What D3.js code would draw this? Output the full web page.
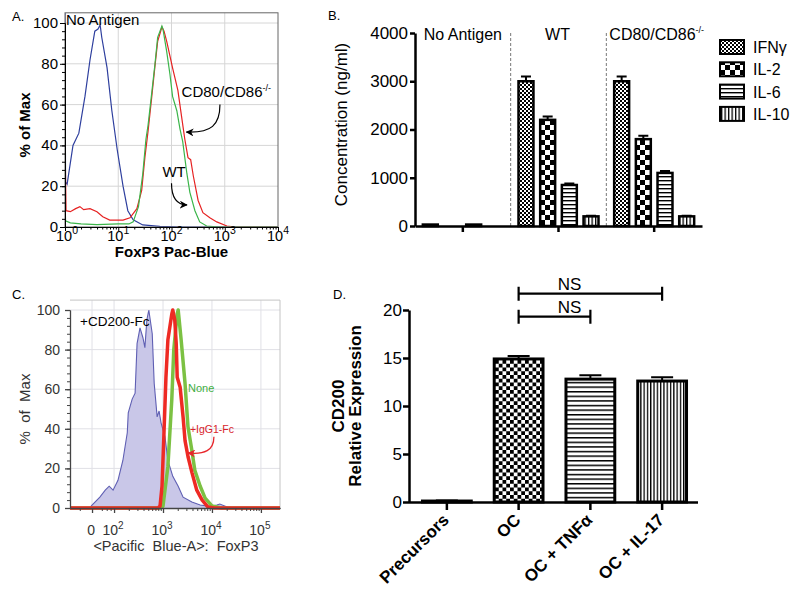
<!DOCTYPE html>
<html><head><meta charset="utf-8">
<script src="https://cdn.jsdelivr.net/npm/d3@7"></script>
<style>body{margin:0;background:#fff} svg text{font-family:'Liberation Sans',Arial,sans-serif}</style>
</head><body><script>
// ---------------- DATA ----------------
// Panel A: FoxP3 histograms, [log10 FoxP3, % of Max]
const aXTicks = [1, 10, 100, 1000, 10000];
const aXExp = ["0", "1", "2", "3", "4"];
const aYTicks = [0, 20, 40, 60, 80, 100];
const histNoAntigen = [[0,105],[0.01,22],[0.04,21],[0.15,40],[0.26,46],[0.375,64],[0.47,82],[0.56,96],[0.62,97],[0.66,99],[0.69,93],[0.79,78],[0.88,57],[0.98,38],[1.09,20],[1.18,8],[1.28,3.5],[1.46,1],[1.78,0.3],[2.2,0],[4,0]];
const histWT = [[0,15],[0.01,3],[0.1,2],[0.3,1.5],[0.6,1.2],[1.0,1.5],[1.2,1.5],[1.28,2.5],[1.38,10],[1.46,26],[1.52,43],[1.56,50],[1.63,66],[1.69,80],[1.74,93],[1.82,98.5],[1.84,97],[1.91,86],[1.97,75],[2.02,64],[2.10,57],[2.16,48],[2.21,42],[2.29,26],[2.345,17],[2.44,8],[2.53,2.5],[2.66,0.5],[2.9,0],[4,0]];
const histCD80 = [[0,42],[0.02,8],[0.1,7.5],[0.2,9],[0.28,10],[0.35,8.5],[0.47,9],[0.6,7.5],[0.71,5],[0.84,3.4],[1.09,3.4],[1.22,4.5],[1.35,9],[1.44,18],[1.5,34],[1.56,47],[1.63,64],[1.69,79],[1.74,91],[1.82,98],[1.86,96],[1.91,91],[2.02,78],[2.12,67],[2.19,54],[2.25,43],[2.31,34],[2.36,33],[2.41,25],[2.5,13],[2.59,7],[2.72,4.5],[2.85,2.5],[3.04,0.5],[3.2,0],[4,0]];

// Panel B: cytokine concentrations (ng/ml)
const bGroups = ["No Antigen", "WT", "CD80/CD86"];
const bCytokines = ["IFNγ", "IL-2", "IL-6", "IL-10"];
const bYTicks = [0, 1000, 2000, 3000, 4000];
const bIFNg = [30, 3000, 3000];
const bIL2 = [0, 2200, 1800];
const bIL6 = [30, 850, 1100];
const bIL10 = [0, 200, 200];
const bIFNgErr = [0, 100, 100];
const bIL2Err = [0, 70, 70];
const bIL6Err = [0, 30, 40];
const bIL10Err = [0, 10, 10];

// Panel C: biexponential display units (log10 above 10^2; "0" shown at 1.55)
const cTickPos = [1.55, 2, 3, 4, 5];
const cTickBase = ["0", "10", "10", "10", "10"];
const cTickExp = ["", "2", "3", "4", "5"];
const cYTicks = [0, 20, 40, 60, 80, 100];
const histCD200 = [[1.1,0],[1.5,0],[1.55,1.5],[1.71,5.5],[1.82,9],[1.90,11],[1.98,9],[2.08,14],[2.18,24],[2.27,38],[2.29,48],[2.37,55],[2.43,58],[2.47,83],[2.53,91],[2.59,86],[2.63,81],[2.67,95],[2.71,100],[2.78,88],[2.82,63],[2.88,46],[2.92,49],[2.96,43],[3.04,36],[3.10,24],[3.20,16],[3.31,11],[3.41,5.5],[3.59,3],[3.76,1.5],[3.95,0.8],[4.1,1.5],[4.16,2],[4.31,0.5],[4.5,0],[5.39,0]];
const histNone = [[1.1,0],[2.95,0],[3.0,1],[3.10,21],[3.18,55],[3.22,80],[3.29,98],[3.31,100],[3.37,85],[3.45,63],[3.51,41],[3.59,29],[3.65,19],[3.76,11],[3.86,5],[4.0,1],[4.2,0],[5.39,0]];
const histIgG1 = [[1.1,0],[2.9,0],[2.94,1],[2.98,11],[3.02,38],[3.06,66],[3.10,85],[3.18,98],[3.20,100],[3.24,95],[3.27,83],[3.29,66],[3.35,61],[3.41,46],[3.45,34],[3.51,26],[3.59,18],[3.69,9],[3.80,4],[3.92,0.5],[4.05,0],[5.39,0]];

// Panel D: CD200 relative expression
const dCategories = ["Precursors", "OC", "OC + TNFα", "OC + IL-17"];
const dValues = [0.1, 14.9, 12.8, 12.6];
const dErrors = [0.05, 0.3, 0.4, 0.4];
const dYTicks = [0, 5, 10, 15, 20];

// ---------------- SETUP ----------------
const FONT = "'Liberation Sans',Arial,sans-serif";
const svg = d3.select("body").append("svg").attr("width", 800).attr("height", 603);
svg.append("rect").attr("width", 800).attr("height", 603).attr("fill", "#fff");
const defs = svg.append("defs");

function checker(id, size, sq) {
  const p = defs.append("pattern").attr("id", id).attr("patternUnits", "userSpaceOnUse").attr("width", size).attr("height", size);
  p.append("rect").attr("width", size).attr("height", size).attr("fill", "#fff");
  p.append("rect").attr("width", sq).attr("height", sq).attr("fill", "#000");
  p.append("rect").attr("x", sq).attr("y", sq).attr("width", sq).attr("height", sq).attr("fill", "#000");
}
function hstripe(id, period, lw) {
  const p = defs.append("pattern").attr("id", id).attr("patternUnits", "userSpaceOnUse").attr("width", 10).attr("height", period);
  p.append("rect").attr("width", 10).attr("height", period).attr("fill", "#fff");
  p.append("rect").attr("width", 10).attr("height", lw).attr("fill", "#000");
}
function vstripe(id, period, lw) {
  const p = defs.append("pattern").attr("id", id).attr("patternUnits", "userSpaceOnUse").attr("width", period).attr("height", 10);
  p.append("rect").attr("width", period).attr("height", 10).attr("fill", "#fff");
  p.append("rect").attr("width", lw).attr("height", 10).attr("fill", "#000");
}
checker("pFine", 4, 2);
checker("pBig", 10, 5);
hstripe("pH", 4, 1.4);
vstripe("pV", 3.5, 1.3);
checker("pDCheck", 7.5, 3.75);
hstripe("pDH", 4.6, 1.5);
vstripe("pDV", 3.3, 1.3);

function marker(id, color) {
  defs.append("marker").attr("id", id).attr("viewBox", "0 0 10 10").attr("refX", 9).attr("refY", 5)
    .attr("markerWidth", 8).attr("markerHeight", 8).attr("markerUnits", "userSpaceOnUse").attr("orient", "auto")
    .append("path").attr("d", "M0,0 L10,5 L0,10 L3,5 Z").attr("fill", color);
}
marker("arrK", "#000");
marker("arrR", "#e8262b");

function supText(sel, x, y, base, sup, size, supSize, anchor, color) {
  const t = sel.append("text").attr("x", x).attr("y", y).attr("text-anchor", anchor)
    .attr("font-size", size).attr("fill", color || "#000");
  t.append("tspan").text(base);
  if (sup) t.append("tspan").attr("dy", -size * 0.45).attr("font-size", supSize).text(sup);
  return t;
}
function styleAxis(g, size, color, width) {
  g.attr("font-family", FONT).attr("font-size", size);
  g.selectAll("text").attr("fill", color);
  g.selectAll("line").attr("stroke", color).attr("stroke-width", width);
  g.select(".domain").attr("stroke", color).attr("stroke-width", width);
}

// ---------------- PANEL A ----------------
{
  const g = svg.append("g");
  const xA = d3.scaleLog().domain([1, 1e4]).range([65, 278]);
  const yA = d3.scaleLinear().domain([0, 100]).range([227, 23]);
  const top = yA(105);
  g.selectAll(null).data(aXTicks.slice(1, -1)).join("line")
    .attr("x1", d => xA(d)).attr("x2", d => xA(d)).attr("y1", top).attr("y2", yA(0)).attr("stroke", "#d6d6d6");
  g.selectAll(null).data(aYTicks.slice(1)).join("line")
    .attr("x1", xA(1)).attr("x2", xA(1e4)).attr("y1", d => yA(d)).attr("y2", d => yA(d)).attr("stroke", "#d6d6d6");
  defs.append("clipPath").attr("id", "clipA").append("rect")
    .attr("x", xA(1)).attr("y", top).attr("width", xA(1e4) - xA(1)).attr("height", yA(0) - top);
  const line = d3.line().x(d => xA(Math.pow(10, d[0]))).y(d => yA(d[1]));
  const data = [[histNoAntigen, "#2e3f9e"], [histCD80, "#e62222"], [histWT, "#3bb54a"]];
  g.selectAll(null).data(data).join("path").attr("clip-path", "url(#clipA)")
    .attr("d", d => line(d[0])).attr("fill", "none").attr("stroke", d => d[1]).attr("stroke-width", 1.2);
  g.append("rect").attr("x", xA(1)).attr("y", top).attr("width", xA(1e4) - xA(1)).attr("height", yA(0) - top)
    .attr("fill", "none").attr("stroke", "#666").attr("stroke-width", 1);
  // axes
  const ay = g.append("g").attr("transform", `translate(${xA(1)},0)`)
    .call(d3.axisLeft(yA).tickValues(aYTicks).tickSize(5).tickPadding(2).tickSizeOuter(0));
  styleAxis(ay, 15, "#000", 1);
  ay.selectAll("text").attr("dy", "0.3em");
  const ayMinor = g.append("g").attr("transform", `translate(${xA(1)},0)`)
    .call(d3.axisLeft(yA).tickValues(d3.range(0, 101, 4)).tickSize(3).tickFormat("").tickSizeOuter(0));
  styleAxis(ayMinor, 15, "#000", 1);
  const ax = g.append("g").attr("transform", `translate(0,${yA(0)})`)
    .call(d3.axisBottom(xA).tickValues(aXTicks).tickSize(4).tickFormat("").tickSizeOuter(0));
  styleAxis(ax, 15, "#000", 1);
  const minorVals = [];
  for (let dcd = 1; dcd <= 1000; dcd *= 10) for (let k = 2; k <= 9; k++) minorVals.push(k * dcd);
  const axMinor = g.append("g").attr("transform", `translate(0,${yA(0)})`)
    .call(d3.axisBottom(xA).tickValues(minorVals).tickSize(2.5).tickFormat("").tickSizeOuter(0));
  styleAxis(axMinor, 15, "#000", 1);
  aXTicks.forEach((t, i) => supText(g, xA(t) + (i === 0 ? 2 : 0), 241, "10", aXExp[i], 14.5, 10.5, "middle"));
  g.append("text").attr("x", (xA(1) + xA(1e4)) / 2).attr("y", 257).attr("text-anchor", "middle")
    .attr("font-size", 15).attr("font-weight", "bold").text("FoxP3 Pac-Blue");
  g.append("text").attr("transform", `translate(30,${yA(50)}) rotate(-90)`).attr("text-anchor", "middle")
    .attr("font-size", 15).attr("font-weight", "bold").text("% of Max");
  g.append("text").attr("x", 12).attr("y", 21).attr("font-size", 13).text("A.");
  g.append("text").attr("x", xA(1) + 1).attr("y", 25).attr("font-size", 15).text("No Antigen");
  supText(g, xA(Math.pow(10, 2.19)), yA(63.5), "CD80/CD86", "-/-", 15, 9, "start");
  g.append("text").attr("x", xA(Math.pow(10, 1.83))).attr("y", yA(24.5)).attr("font-size", 15).text("WT");
  g.append("path").attr("d", `M${xA(Math.pow(10,2.91))},${yA(60)} C${xA(Math.pow(10,2.91))},${yA(50)} ${xA(Math.pow(10,2.75))},${yA(46)} ${xA(Math.pow(10,2.28))},${yA(46.5)}`)
    .attr("fill", "none").attr("stroke", "#000").attr("stroke-width", 1.2).attr("marker-end", "url(#arrK)");
  g.append("path").attr("d", `M${xA(Math.pow(10,2.0))},${yA(21.5)} C${xA(Math.pow(10,2.0))},${yA(14)} ${xA(Math.pow(10,2.1))},${yA(11)} ${xA(Math.pow(10,2.29))},${yA(10.8)}`)
    .attr("fill", "none").attr("stroke", "#000").attr("stroke-width", 1.2).attr("marker-end", "url(#arrK)");
}

// ---------------- PANEL B ----------------
{
  const g = svg.append("g");
  const xB = d3.scaleBand().domain(bGroups).range([415, 702]);
  const xIn = d3.scaleBand().domain(bCytokines).range([-40, 40]).paddingInner(0.31);
  const yB = d3.scaleLinear().domain([0, 4000]).range([226, 33]);
  const series = [
    { name: "IFNγ", v: bIFNg, e: bIFNgErr, pat: "url(#pFine)" },
    { name: "IL-2", v: bIL2, e: bIL2Err, pat: "url(#pBig)" },
    { name: "IL-6", v: bIL6, e: bIL6Err, pat: "url(#pH)" },
    { name: "IL-10", v: bIL10, e: bIL10Err, pat: "url(#pV)" }
  ];
  // separators
  g.selectAll(null).data(bGroups.slice(1)).join("line")
    .attr("x1", d => xB(d)).attr("x2", d => xB(d)).attr("y1", yB(4000)).attr("y2", yB(0))
    .attr("stroke", "#555").attr("stroke-width", 0.8).attr("stroke-dasharray", "3,2");
  const cx = (gname, s) => xB(gname) + xB.bandwidth() / 2 + xIn(s);
  series.forEach(s => {
    const rows = bGroups.map((gn, i) => ({ g: gn, v: s.v[i], e: s.e[i] }));
    g.selectAll(null).data(rows.filter(r => r.e > 0)).join("path")
      .attr("d", r => {
        const xm = cx(r.g, s.name) + xIn.bandwidth() / 2;
        return `M${xm},${yB(r.v)} V${yB(r.v + r.e)} M${xm - 5},${yB(r.v + r.e)} H${xm + 5}`;
      }).attr("stroke", "#000").attr("stroke-width", 2).attr("fill", "none");
    g.selectAll(null).data(rows.filter(r => r.v > 0)).join("rect")
      .attr("x", r => cx(r.g, s.name)).attr("width", xIn.bandwidth())
      .attr("y", r => yB(r.v)).attr("height", r => yB(0) - yB(r.v))
      .attr("fill", s.pat).attr("stroke", "#000").attr("stroke-width", 2.5);
  });
  const ay = g.append("g").attr("transform", `translate(415,0)`)
    .call(d3.axisLeft(yB).tickValues(bYTicks).tickFormat(d3.format("d")).tickSize(5).tickPadding(2).tickSizeOuter(0));
  styleAxis(ay, 17, "#000", 2.5);
  const ax = g.append("g").attr("transform", `translate(0,${yB(0)})`)
    .call(d3.axisBottom(xB).tickSize(6).tickFormat("").tickSizeOuter(0));
  styleAxis(ax, 17, "#000", 2.5);
  g.append("text").attr("transform", `translate(347,${yB(2000) - 5}) rotate(-90)`).attr("text-anchor", "middle")
    .attr("font-size", 17).text("Concentration (ng/ml)");
  g.append("text").attr("x", 328).attr("y", 20).attr("font-size", 13).text("B.");
  g.append("text").attr("x", xB("No Antigen") + xB.bandwidth() / 2).attr("y", 40).attr("text-anchor", "middle").attr("font-size", 16).text("No Antigen");
  g.append("text").attr("x", xB("WT") + xB.bandwidth() / 2 - 1).attr("y", 40).attr("text-anchor", "middle").attr("font-size", 16).text("WT");
  supText(g, xB("CD80/CD86") + 3, 40, "CD80/CD86", "-/-", 16, 9, "start");
  // legend
  const lg = g.append("g");
  series.forEach((s, i) => {
    const y = 40 + i * 22.3;
    lg.append("rect").attr("x", 720).attr("y", y).attr("width", 24).attr("height", 14)
      .attr("fill", s.pat).attr("stroke", "#000").attr("stroke-width", 2);
    lg.append("text").attr("x", 753).attr("y", y + 13).attr("font-size", 16).text(s.name);
  });
}

// ---------------- PANEL C ----------------
{
  const g = svg.append("g");
  const xC = d3.scaleLinear().domain([1.10, 5.39]).range([70, 280]);
  const yC = d3.scaleLinear().domain([0, 100]).range([508, 310]);
  const top = yC(105);
  g.selectAll(null).data(cTickPos).join("line")
    .attr("x1", d => xC(d)).attr("x2", d => xC(d)).attr("y1", top).attr("y2", yC(0)).attr("stroke", "#e0e0e6");
  g.selectAll(null).data(cYTicks.slice(1)).join("line")
    .attr("x1", xC(1.1)).attr("x2", xC(5.39)).attr("y1", d => yC(d)).attr("y2", d => yC(d)).attr("stroke", "#e0e0e6");
  g.append("path").attr("d", `M${xC(1.1)},${top} H${xC(5.39)} V${yC(0)}`).attr("fill", "none").attr("stroke", "#c4c4c4");
  const line = d3.line().x(d => xC(d[0])).y(d => yC(d[1]));
  const area = d3.area().x(d => xC(d[0])).y0(yC(0)).y1(d => yC(d[1]));
  g.append("path").attr("d", area(histCD200)).attr("fill", "#c9c7e8").attr("stroke", "none");
  g.append("path").attr("d", line(histCD200)).attr("fill", "none").attr("stroke", "#5f5fb3").attr("stroke-width", 1.1);
  g.append("path").attr("d", line(histNone)).attr("fill", "none").attr("stroke", "#7cc143").attr("stroke-width", 3.5).attr("stroke-linejoin", "round");
  g.append("path").attr("d", line(histIgG1)).attr("fill", "none").attr("stroke", "#ee2a24").attr("stroke-width", 3.5).attr("stroke-linejoin", "round");
  const ay = g.append("g").attr("transform", `translate(${xC(1.1)},0)`)
    .call(d3.axisLeft(yC).tickValues(cYTicks).tickSize(5).tickPadding(5).tickSizeOuter(0));
  styleAxis(ay, 14, "#444", 1.3);
  ay.selectAll("text").attr("font-family", "'DejaVu Sans',sans-serif").attr("fill", "#333");
  const ayMinor = g.append("g").attr("transform", `translate(${xC(1.1)},0)`)
    .call(d3.axisLeft(yC).tickValues(d3.range(0, 101, 4)).tickSize(3).tickFormat("").tickSizeOuter(0));
  styleAxis(ayMinor, 14, "#444", 1);
  const ax = g.append("g").attr("transform", `translate(0,${yC(0)})`)
    .call(d3.axisBottom(xC).tickValues(cTickPos).tickSize(5).tickFormat("").tickSizeOuter(0));
  styleAxis(ax, 14, "#444", 1.3);
  const minorVals = [1.3, 1.75, 1.85, 1.93];
  for (let dcd = 2; dcd <= 4; dcd++) for (let k = 2; k <= 9; k++) minorVals.push(dcd + Math.log10(k));
  const axMinor = g.append("g").attr("transform", `translate(0,${yC(0)})`)
    .call(d3.axisBottom(xC).tickValues(minorVals).tickSize(3).tickFormat("").tickSizeOuter(0));
  styleAxis(axMinor, 14, "#444", 1);
  cTickPos.forEach((p, i) => supText(g, xC(p) - 1, 535, cTickBase[i], cTickExp[i], 14, 10, "middle", "#333")
    .attr("font-family", "'DejaVu Sans',sans-serif"));
  g.append("text").attr("x", 176).attr("y", 551).attr("text-anchor", "middle").attr("font-size", 14.5)
    .attr("font-family", "'DejaVu Sans',sans-serif").attr("fill", "#333").style("white-space", "pre").text("<Pacific  Blue-A>:  FoxP3");
  g.append("text").attr("transform", `translate(30,${yC(50)}) rotate(-90)`).attr("text-anchor", "middle")
    .attr("font-size", 15).attr("font-family", "'DejaVu Sans',sans-serif").attr("fill", "#333").style("white-space", "pre").text("%  of  Max");
  g.append("text").attr("x", 12).attr("y", 299).attr("font-size", 13).text("C.");
  g.append("text").attr("x", 80).attr("y", 326).attr("font-size", 13.5).text("+CD200-Fc");
  g.append("text").attr("x", xC(3.51)).attr("y", yC(58.5)).attr("font-size", 11).attr("fill", "#3fae3f").text("None");
  g.append("text").attr("x", xC(3.55)).attr("y", yC(38)).attr("font-size", 10.5).attr("fill", "#d8232a").text("+IgG1-Fc");
  g.append("path").attr("d", `M${xC(4.04)},${yC(36)} C${xC(4.04)},${yC(29)} ${xC(3.85)},${yC(27)} ${xC(3.51)},${yC(27.8)}`)
    .attr("fill", "none").attr("stroke", "#e8262b").attr("stroke-width", 1.3).attr("marker-end", "url(#arrR)");
}

// ---------------- PANEL D ----------------
{
  const g = svg.append("g");
  const xD = d3.scaleBand().domain(dCategories).range([411, 698]).paddingInner(0.32).paddingOuter(0.16);
  const yD = d3.scaleLinear().domain([0, 20]).range([502, 310]);
  const pats = ["#fff", "url(#pDCheck)", "url(#pDH)", "url(#pDV)"];
  const rows = dCategories.map((c, i) => ({ c, v: dValues[i], e: dErrors[i], p: pats[i] }));
  g.selectAll(null).data(rows).join("path")
    .attr("d", r => {
      const xm = xD(r.c) + xD.bandwidth() / 2;
      return `M${xm},${yD(r.v)} V${yD(r.v + r.e)} M${xm - 11},${yD(r.v + r.e)} H${xm + 11}`;
    }).attr("stroke", "#000").attr("stroke-width", 2).attr("fill", "none");
  g.selectAll(null).data(rows).join("rect")
    .attr("x", r => xD(r.c)).attr("width", xD.bandwidth())
    .attr("y", r => yD(r.v)).attr("height", r => yD(0) - yD(r.v))
    .attr("fill", r => r.p).attr("stroke", "#000").attr("stroke-width", 3);
  const ay = g.append("g").attr("transform", `translate(409,0)`)
    .call(d3.axisLeft(yD).tickValues(dYTicks).tickSize(6).tickPadding(1).tickSizeOuter(0));
  styleAxis(ay, 17, "#000", 2.5);
  const ax = g.append("g").attr("transform", `translate(0,${yD(0)})`)
    .call(d3.axisBottom(xD).tickSize(8).tickFormat("").tickSizeOuter(0));
  styleAxis(ax, 17, "#000", 2.5);
  ax.select(".domain").attr("d", `M409,0.5H698`);
  g.selectAll(null).data(dCategories).join("text")
    .attr("transform", d => `translate(${xD(d) + xD.bandwidth() / 2 + 3},${yD(0) + 19}) rotate(-45)`)
    .attr("text-anchor", "end").attr("font-size", 17).attr("font-weight", "bold").text(d => d);
  const yl = g.append("text").attr("transform", `translate(344,${yD(10)}) rotate(-90)`).attr("text-anchor", "middle")
    .attr("font-size", 17).attr("font-weight", "bold");
  yl.append("tspan").attr("x", 0).attr("dy", 0).text("CD200");
  yl.append("tspan").attr("x", 0).attr("dy", 17).text("Relative Expression");
  g.append("text").attr("x", 333).attr("y", 299).attr("font-size", 13).text("D.");
  // significance brackets
  const brackets = [
    { from: "OC", to: "OC + TNFα", level: 19.3, label: "NS" },
    { from: "OC", to: "OC + IL-17", level: 21.7, label: "NS" }
  ];
  const mid = c => xD(c) + xD.bandwidth() / 2;
  brackets.forEach(b => {
    const y = yD(b.level);
    g.append("path").attr("d", `M${mid(b.from)},${y - 7} V${y + 7} M${mid(b.from)},${y} H${mid(b.to)} M${mid(b.to)},${y - 7} V${y + 7}`)
      .attr("stroke", "#000").attr("stroke-width", 2.2).attr("fill", "none");
    g.append("text").attr("x", (mid("OC") + mid("OC + TNFα")) / 2 + 15).attr("y", y - 4).attr("text-anchor", "middle")
      .attr("font-size", 17).text(b.label);
  });
}
</script></body></html>
